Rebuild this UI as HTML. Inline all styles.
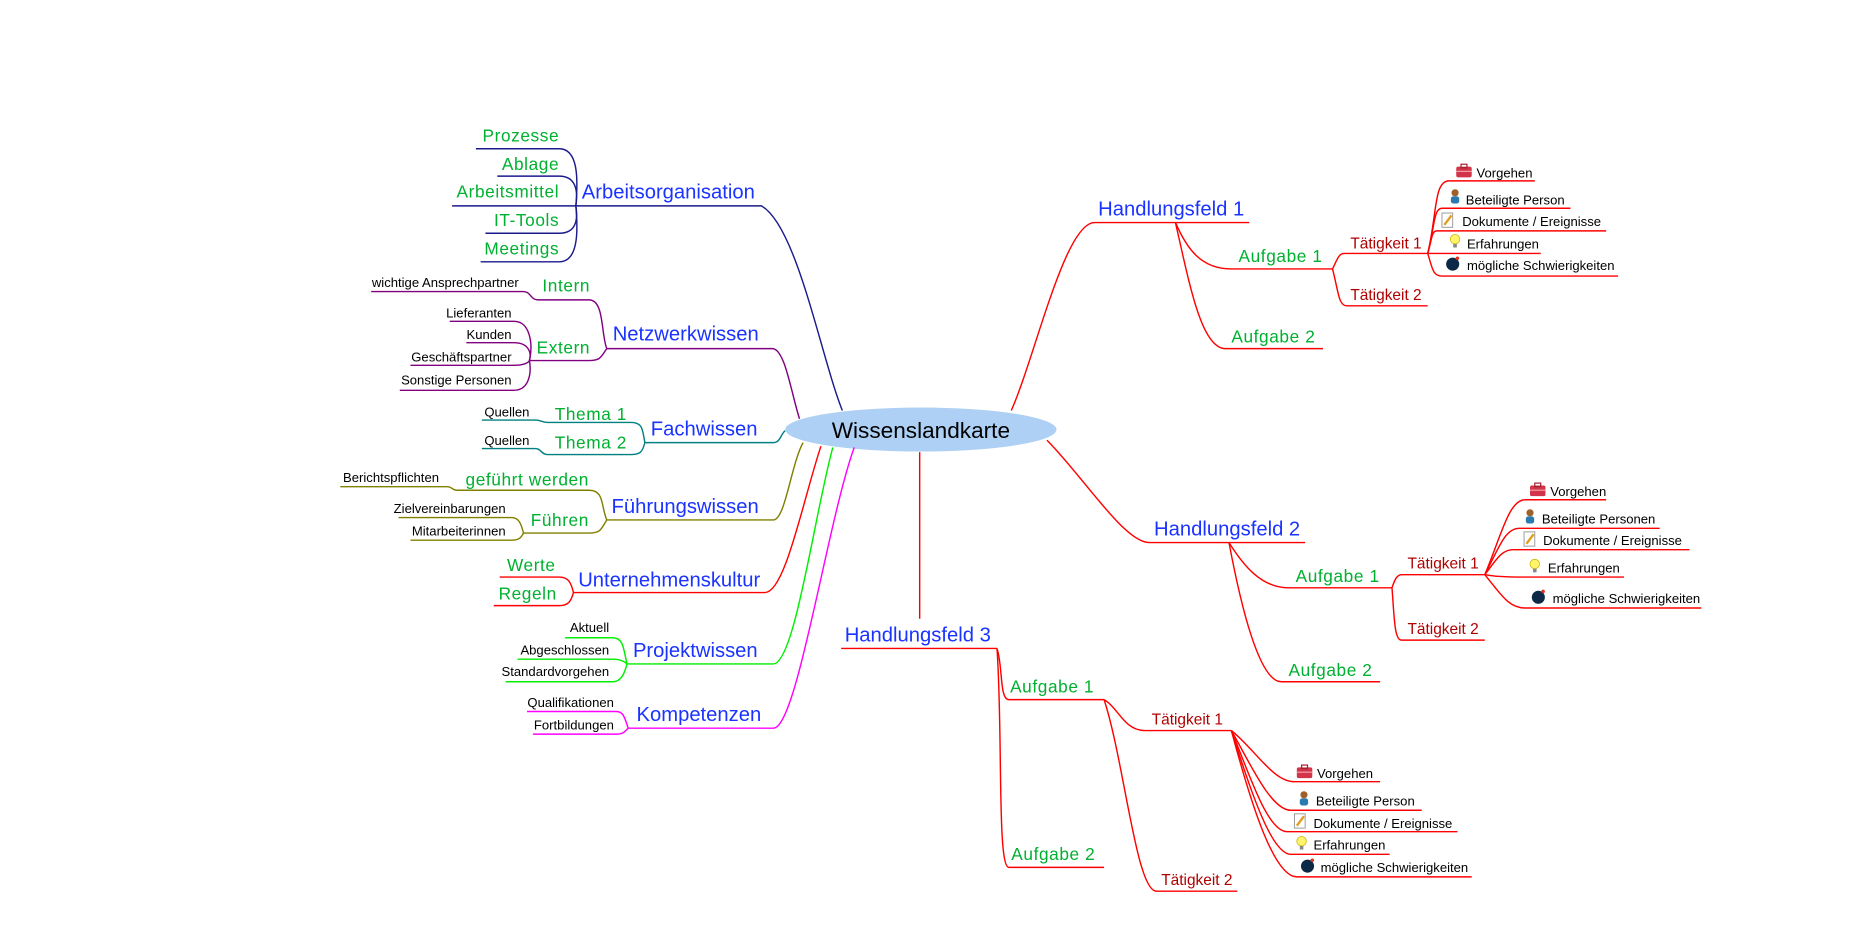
<!DOCTYPE html>
<html><head><meta charset="utf-8"><style>html,body{margin:0;padding:0;background:#fff}svg{display:block}</style></head>
<body>
<svg width="1856" height="940" viewBox="0 0 1560 790" xmlns="http://www.w3.org/2000/svg" font-family="Liberation Sans, sans-serif">
<defs>
<g id="box"><rect x="0" y="2" width="13" height="9" rx="1.5" fill="#d2344a"/><rect x="4" y="0" width="5" height="3" fill="none" stroke="#a02030" stroke-width="1"/><line x1="0" y1="6" x2="13" y2="6" stroke="#f5a0a8" stroke-width="1"/></g>
<g id="pers"><circle cx="5" cy="3" r="3" fill="#a0602a"/><rect x="1.5" y="6" width="7" height="6" rx="2" fill="#2a7ab0"/></g>
<g id="doc"><rect x="0" y="0" width="9" height="12" fill="#fff" stroke="#999" stroke-width="0.8"/><line x1="2" y1="10" x2="8" y2="2" stroke="#e0a020" stroke-width="2"/></g>
<g id="bulb"><circle cx="4" cy="4" r="4" fill="#fff46a" stroke="#c8b000" stroke-width="0.6"/><rect x="2.5" y="8" width="3" height="3" fill="#888"/></g>
<g id="bomb"><circle cx="5" cy="6" r="5.5" fill="#0c2a48"/><circle cx="9" cy="1" r="1.5" fill="#e03020"/></g>
</defs>

<ellipse cx="774" cy="361" rx="114" ry="18.5" fill="#add0f4"/>
<text x="774" y="368" font-size="19" text-anchor="middle" fill="#000">Wissenslandkarte</text>

<g fill="none" stroke-width="1.2">
<g stroke="#1a1a8c">
<path d="M708 345 C690 300 670 190 640 173 L484 173"/>
<path d="M484 173 C486 150 486 125 470 125 L400 125"/>
<path d="M484 173 C486 160 484 148 470 148 L418 148"/>
<path d="M484 173 L380 173"/>
<path d="M484 173 C486 185 484 196 470 196 L408 196"/>
<path d="M484 173 C486 195 486 220 470 220 L404 220"/>
</g>
<g stroke="#800080">
<path d="M672 352 C665 330 660 295 650 293 L510 293"/>
<path d="M510 293 C505 280 508 252 495 252 L452 252 C446 252 446 245 440 245 L312 245"/>
<path d="M510 293 C505 300 505 303 495 303 L445 303"/>
<path d="M445 303 C448 290 446 270 432 270 L378 270"/>
<path d="M445 303 C447 296 444 288 432 288 L392 288"/>
<path d="M445 303 C444 305 440 307 432 307 L345 307"/>
<path d="M445 303 C447 315 444 328 432 328 L336 328"/>
</g>
<g stroke="#008080">
<path d="M660 362 C656 365 656 372 650 372 L542 372"/>
<path d="M542 372 C540 360 540 355 530 355 L460 355 C455 355 455 353 450 353 L405 353"/>
<path d="M542 372 C540 380 538 382 530 382 L460 382 C455 382 455 377 450 377 L405 377"/>
</g>
<g stroke="#808000">
<path d="M675 372 C665 390 660 437 650 437 L510 437"/>
<path d="M510 437 C505 425 508 412 495 412 L384 412 C380 412 380 409 376 409 L286 409"/>
<path d="M510 437 C505 445 505 448 495 448 L440 448"/>
<path d="M440 448 C438 440 436 435 430 435 L335 435"/>
<path d="M440 448 C438 452 436 454 430 454 L345 454"/>
</g>
<g stroke="#ff0000">
<path d="M690 375 C675 420 660 498 643 498 L482 498"/>
<path d="M482 498 C480 490 478 485 470 485 L420 485"/>
<path d="M482 498 C480 505 478 509 470 509 L415 509"/>
</g>
<g stroke="#00ee00">
<path d="M700 376 C685 430 668 558 650 558 L527 558"/>
<path d="M527 558 C524 545 524 536 515 536 L475 536"/>
<path d="M527 558 C525 556 522 554 515 554 L435 554"/>
<path d="M527 558 C525 566 522 573 515 573 L425 573"/>
</g>
<g stroke="#ff00ff">
<path d="M718 376 C695 440 670 612 650 612 L528 612"/>
<path d="M528 612 C525 603 524 598 518 598 L443 598"/>
<path d="M528 612 C525 615 524 617 518 617 L448 617"/>
</g>

<g stroke="#ff0000">
<path d="M850 345 C870 300 895 187 920 187 L1050 187"/>
<path d="M988 187 C998 210 1010 226 1035 226 L1120 226"/>
<path d="M988 187 C1000 240 1010 293 1030 293 L1112 293"/>
<path d="M1120 226 C1124 218 1125 213 1130 213 L1200 213"/>
<path d="M1120 226 C1125 245 1125 257 1132 257 L1200 257"/>
<path d="M1200 213 C1208 180 1205 152 1218 152 L1290 152"/>
<path d="M1200 213 C1206 190 1205 175 1212 175 L1320 175"/>
<path d="M1200 213 C1204 200 1203 194 1208 194 L1350 194"/>
<path d="M1200 213 L1295 213"/>
<path d="M1200 213 C1204 225 1204 232 1212 232 L1360 232"/>
<path d="M880 370 C910 400 945 456 966 456 L1097 456"/>
<path d="M1033 456 C1045 475 1060 494 1083 494 L1170 494"/>
<path d="M1033 456 C1045 520 1060 573 1077 573 L1160 573"/>
<path d="M1170 494 C1172 488 1174 483 1178 483 L1248 483"/>
<path d="M1170 494 C1172 520 1172 538 1178 538 L1248 538"/>
<path d="M1248 483 C1262 450 1268 420 1282 420 L1350 420"/>
<path d="M1248 483 C1260 460 1265 444 1277 444 L1395 444"/>
<path d="M1248 483 C1258 470 1262 462 1272 462 L1420 462"/>
<path d="M1248 483 C1258 485 1270 485 1280 485 L1365 485"/>
<path d="M1248 483 C1262 500 1268 511 1282 511 L1430 511"/>
<path d="M773 380 L773 520"/>
<path d="M838 545 L707 545"/>
<path d="M838 545 C843 560 840 588 848 588 L928 588"/>
<path d="M838 545 C843 620 838 729 848 729 L928 729"/>
<path d="M928 588 C940 595 945 614 962 614 L1035 614"/>
<path d="M928 588 C945 640 955 749 972 749 L1040 749"/>
<path d="M1035 614 C1055 630 1070 657 1088 657 L1160 657"/>
<path d="M1035 614 C1050 640 1068 681 1085 681 L1195 681"/>
<path d="M1035 614 C1050 650 1065 699 1082 699 L1225 699"/>
<path d="M1035 614 C1050 660 1068 718 1085 718 L1168 718"/>
<path d="M1035 614 C1050 670 1070 737 1090 737 L1237 737"/>
</g>
</g>

<g fill="#1a33ff" font-size="17">
<text x="489" y="167">Arbeitsorganisation</text>
<text x="515" y="286">Netzwerkwissen</text>
<text x="547" y="366">Fachwissen</text>
<text x="514" y="431">Führungswissen</text>
<text x="486" y="493">Unternehmenskultur</text>
<text x="532" y="552">Projektwissen</text>
<text x="535" y="606">Kompetenzen</text>
<text x="923" y="181">Handlungsfeld 1</text>
<text x="970" y="450">Handlungsfeld 2</text>
<text x="710" y="539">Handlungsfeld 3</text>
</g>
<g fill="#00b030" font-size="14.5" text-anchor="end" letter-spacing="0.5">
<text x="470" y="119">Prozesse</text>
<text x="470" y="143">Ablage</text>
<text x="470" y="166">Arbeitsmittel</text>
<text x="470" y="190">IT-Tools</text>
<text x="470" y="214">Meetings</text>
<text x="496" y="245">Intern</text>
<text x="496" y="297">Extern</text>
<text x="527" y="353">Thema 1</text>
<text x="527" y="377">Thema 2</text>
<text x="495" y="408">geführt werden</text>
<text x="495" y="442">Führen</text>
<text x="467" y="480">Werte</text>
<text x="468" y="504">Regeln</text>
</g>
<g fill="#00b030" font-size="14.5" letter-spacing="0.5">
<text x="1041" y="220">Aufgabe 1</text>
<text x="1035" y="288">Aufgabe 2</text>
<text x="1089" y="489">Aufgabe 1</text>
<text x="1083" y="568">Aufgabe 2</text>
<text x="849" y="582">Aufgabe 1</text>
<text x="850" y="723">Aufgabe 2</text>
</g>
<g fill="#b00000" font-size="13">
<text x="1135" y="209">Tätigkeit 1</text>
<text x="1135" y="252">Tätigkeit 2</text>
<text x="1183" y="478">Tätigkeit 1</text>
<text x="1183" y="533">Tätigkeit 2</text>
<text x="968" y="609">Tätigkeit 1</text>
<text x="976" y="744">Tätigkeit 2</text>
</g>
<g fill="#000" font-size="11" text-anchor="end">
<text x="436" y="241">wichtige Ansprechpartner</text>
<text x="430" y="267">Lieferanten</text>
<text x="430" y="285">Kunden</text>
<text x="430" y="304">Geschäftspartner</text>
<text x="430" y="323">Sonstige Personen</text>
<text x="445" y="350">Quellen</text>
<text x="445" y="374">Quellen</text>
<text x="369" y="405">Berichtspflichten</text>
<text x="425" y="431">Zielvereinbarungen</text>
<text x="425" y="450">Mitarbeiterinnen</text>
<text x="512" y="531">Aktuell</text>
<text x="512" y="550">Abgeschlossen</text>
<text x="512" y="568">Standardvorgehen</text>
<text x="516" y="594">Qualifikationen</text>
<text x="516" y="613">Fortbildungen</text>
</g>
<g fill="#000" font-size="11">
<use href="#box" x="1224" y="138"/><text x="1241" y="149">Vorgehen</text>
<use href="#pers" x="1218" y="159"/><text x="1232" y="172">Beteiligte Person</text>
<use href="#doc" x="1212" y="179"/><text x="1229" y="190">Dokumente / Ereignisse</text>
<use href="#bulb" x="1219" y="197"/><text x="1233" y="209">Erfahrungen</text>
<use href="#bomb" x="1216" y="216"/><text x="1233" y="227">mögliche Schwierigkeiten</text>

<use href="#box" x="1286" y="406"/><text x="1303" y="417">Vorgehen</text>
<use href="#pers" x="1281" y="428"/><text x="1296" y="440">Beteiligte Personen</text>
<use href="#doc" x="1281" y="447"/><text x="1297" y="458">Dokumente / Ereignisse</text>
<use href="#bulb" x="1286" y="470"/><text x="1301" y="481">Erfahrungen</text>
<use href="#bomb" x="1288" y="496"/><text x="1305" y="507">mögliche Schwierigkeiten</text>

<use href="#box" x="1090" y="643"/><text x="1107" y="654">Vorgehen</text>
<use href="#pers" x="1091" y="665"/><text x="1106" y="677">Beteiligte Person</text>
<use href="#doc" x="1088" y="684"/><text x="1104" y="696">Dokumente / Ereignisse</text>
<use href="#bulb" x="1090" y="703"/><text x="1104" y="714">Erfahrungen</text>
<use href="#bomb" x="1094" y="722"/><text x="1110" y="733">mögliche Schwierigkeiten</text>
</g>
</svg>
</body></html>
